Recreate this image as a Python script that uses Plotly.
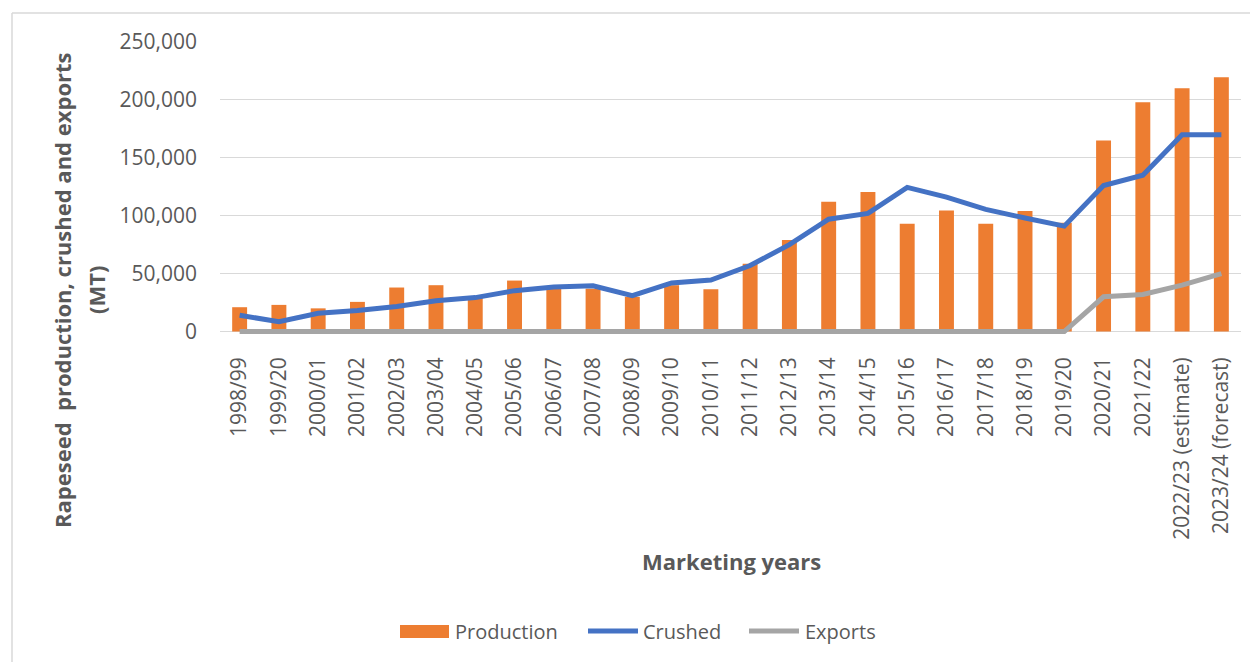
import plotly.graph_objects as go

# ---------------- data ----------------
years = ["1998/99", "1999/20", "2000/01", "2001/02", "2002/03", "2003/04", "2004/05",
         "2005/06", "2006/07", "2007/08", "2008/09", "2009/10", "2010/11", "2011/12",
         "2012/13", "2013/14", "2014/15", "2015/16", "2016/17", "2017/18", "2018/19",
         "2019/20", "2020/21", "2021/22", "2022/23 (estimate)", "2023/24 (forecast)"]

production = [21000, 23000, 20000, 25600, 38000, 40000, 30000, 44000, 38000, 37000,
              30000, 40000, 36500, 58500, 79000, 112000, 120500, 93000, 104500, 93000,
              104000, 94000, 165000, 198000, 210000, 219500]

crushed = [14000, 8500, 15800, 18100, 21600, 26500, 29300, 35300, 38500, 39500,
           31000, 42000, 44500, 57000, 75000, 97000, 102000, 124500, 116000, 105500,
           98000, 91000, 126000, 135000, 170000, 170000]

exports = [0, 0, 0, 0, 0, 0, 0, 0, 0, 0, 0, 0, 0, 0, 0, 0, 0, 0, 0, 0, 0, 0,
           30000, 32000, 40000, 50000]

y_ticks = [0, 50000, 100000, 150000, 200000, 250000]

# ---------------- style ----------------
OFF = 8                      # page body margin
W, H = 1258 - OFF, 662 - OFF
ML, MR, MT, MB = 212, 17, 34, 327
FONT = "Open Sans"
TXT = "#595959"
GRID = "#D9D9D9"
C_PROD, C_CRUSH, C_EXP = "#ED7D31", "#4472C4", "#A5A5A5"

plot_w = W - ML - MR
plot_h = H - MT - MB


def px_x(px):   # screen pixel -> paper x
    return (px - OFF - ML) / plot_w


def px_y(py):   # screen pixel -> paper y
    return (H - MB - (py - OFF)) / plot_h


fig = go.Figure()
fig.add_trace(go.Bar(x=years, y=production, name="Production",
                     marker=dict(color=C_PROD, line=dict(width=0))))
fig.add_trace(go.Scatter(x=years, y=crushed, name="Crushed", mode="lines",
                         line=dict(color=C_CRUSH, width=5)))
fig.add_trace(go.Scatter(x=years, y=exports, name="Exports", mode="lines",
                         line=dict(color=C_EXP, width=5)))

fig.update_layout(
    width=W, height=H,
    margin=dict(l=ML, r=MR, t=MT, b=MB),
    paper_bgcolor="white", plot_bgcolor="white",
    font=dict(family=FONT, color=TXT, size=20),
    bargap=0.62,
    showlegend=False,
)

fig.update_xaxes(type="category", tickangle=-90, tickfont=dict(size=21, color=TXT),
                 showgrid=False, showline=False, ticks="", ticklabelstandoff=17)
fig.update_yaxes(range=[-3000, 250000], tickvals=y_ticks, tickformat=",",
                 tickfont=dict(size=21, color=TXT), showgrid=True, gridcolor=GRID,
                 gridwidth=1.3, zeroline=True, zerolinecolor=GRID, zerolinewidth=1.3,
                 showline=False, ticks="", ticklabelstandoff=22)

# axis titles
fig.add_annotation(text="<b>Rapeseed  production, crushed and exports</b>",
                   xref="paper", yref="paper", x=px_x(62), y=px_y(290),
                   textangle=-90, showarrow=False, font=dict(size=22, color=TXT),
                   xanchor="center", yanchor="middle")
fig.add_annotation(text="<b>(MT)</b>",
                   xref="paper", yref="paper", x=px_x(96), y=px_y(290),
                   textangle=-90, showarrow=False, font=dict(size=22, color=TXT),
                   xanchor="center", yanchor="middle")
fig.add_annotation(text="<b>Marketing years</b>",
                   xref="paper", yref="paper", x=px_x(731), y=px_y(561),
                   showarrow=False, font=dict(size=22, color=TXT),
                   xanchor="center", yanchor="middle")

# legend (drawn to match the wide symbols of the original)
LEG_Y = 631
fig.add_shape(type="rect", xref="paper", yref="paper",
              x0=px_x(400), x1=px_x(449), y0=px_y(625), y1=px_y(638),
              fillcolor=C_PROD, line=dict(width=0))
fig.add_shape(type="line", xref="paper", yref="paper",
              x0=px_x(588), x1=px_x(638), y0=px_y(LEG_Y), y1=px_y(LEG_Y),
              line=dict(color=C_CRUSH, width=5))
fig.add_shape(type="line", xref="paper", yref="paper",
              x0=px_x(749), x1=px_x(799), y0=px_y(LEG_Y), y1=px_y(LEG_Y),
              line=dict(color=C_EXP, width=5))
for label, lx in (("Production", 453), ("Crushed", 641), ("Exports", 803)):
    fig.add_annotation(text=label, xref="paper", yref="paper",
                       x=px_x(lx), y=px_y(LEG_Y), showarrow=False,
                       xanchor="left", yanchor="middle",
                       font=dict(size=20, color=TXT))

# chart border (top and left visible)
fig.add_shape(type="line", xref="paper", yref="paper",
              x0=px_x(12), x1=px_x(1262), y0=px_y(13), y1=px_y(13),
              line=dict(color=GRID, width=1.5))
fig.add_shape(type="line", xref="paper", yref="paper",
              x0=px_x(12), x1=px_x(12), y0=px_y(13), y1=px_y(666),
              line=dict(color=GRID, width=1.5))

fig.write_html("out.html")
